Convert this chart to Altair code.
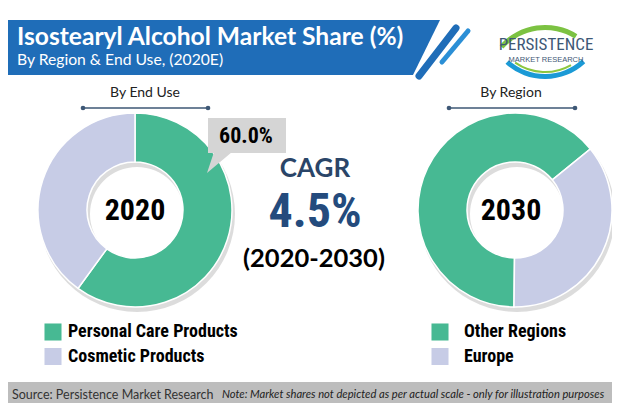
import math
import altair as alt
import pandas as pd

# ---------------- data ----------------
end_use_labels = ["Personal Care Products", "Cosmetic Products"]
end_use_share = [60, 40]
region_labels = ["Other Regions", "Europe"]
region_share = [64, 36]
end_use_year = "2020"
region_year = "2030"
callout_text = "60.0%"
cagr_label = "CAGR"
cagr_value = "4.5%"
cagr_period = "(2020-2030)"
title_text = "Isostearyl Alcohol Market Share (%)"
subtitle_text = "By Region & End Use, (2020E)"
panel_titles = ["By End Use", "By Region"]
source_text = "Source: Persistence Market Research"
note_text = "Note: Market shares not depicted as per actual scale - only for illustration purposes"
logo_lines = ["PERSISTENCE", "MARKET RESEARCH"]

# ---------------- styles ----------------
GREEN = "#47b993"
LAVENDER = "#c7cce6"
BLUE = "#1f6db8"
NAVY = "#3e5876"
NARROW = "Roboto Condensed, DejaVu Sans Condensed, sans-serif"
GOTHIC = "Lato, Open Sans, sans-serif"
OFF = 8
W, H = 604, 395


def px(v):
    return v - OFF


one = alt.Data(values=[{"k": 1}])


def base():
    return alt.Chart(one)


def rect(x1, y1, x2, y2, color, **kw):
    return base().mark_rect(color=color, **kw).encode(
        x=alt.value(px(x1)), x2=alt.value(px(x2)),
        y=alt.value(px(y1)), y2=alt.value(px(y2)))


def poly(points, color, **kw):
    xs = [p[0] for p in points]
    ys = [p[1] for p in points]
    cx = (min(xs) + max(xs)) / 2
    cy = (min(ys) + max(ys)) / 2
    s = max(max(xs) - min(xs), max(ys) - min(ys)) / 2
    path = "M" + "L".join(f"{(x - cx) / s:.4f},{(y - cy) / s:.4f}" for x, y in points) + "Z"
    return base().mark_point(shape=path, filled=True, size=(2 * s) ** 2, color=color,
                             opacity=1, strokeWidth=0, **kw).encode(
        x=alt.value(px(cx)), y=alt.value(px(cy)))


def rule(x1, y1, x2, y2, color, width, **kw):
    return base().mark_rule(color=color, strokeWidth=width, strokeCap="round", **kw).encode(
        x=alt.value(px(x1)), x2=alt.value(px(x2)),
        y=alt.value(px(y1)), y2=alt.value(px(y2)))


def text(t, x, y, size, font=GOTHIC, color="black", weight="normal", align="center",
         baseline="middle", **kw):
    return base().mark_text(text=t, font=font, fontSize=size, fontWeight=weight, color=color,
                            align=align, baseline=baseline, **kw).encode(
        x=alt.value(px(x)), y=alt.value(px(y)))


def dot(x, y, color, size=22):
    return base().mark_point(shape="circle", filled=True, size=size, color=color, opacity=1,
                             strokeWidth=0).encode(x=alt.value(px(x)), y=alt.value(px(y)))


def band_arc(cx, cy, r1, r2, t1, t2, color, **kw):
    return base().mark_arc(radius=r2, radius2=r1, theta=math.radians(t1), theta2=math.radians(t2),
                           color=color, **kw).encode(x=alt.value(px(cx)), y=alt.value(px(cy)))


layers = []

# title banner
layers.append(poly([(6, 20), (440, 20), (413, 75), (6, 75)], BLUE))
layers.append(rule(419, 76, 456, 28, "white", 11))
layers.append(rule(419, 76, 456, 28, BLUE, 7))
layers.append(rule(442, 62, 468, 31, "#2b8fd6", 5))
layers.append(text(title_text, 17, 45, 24.6, weight="bold", color="white", align="left",
                   baseline="alphabetic"))
layers.append(text(subtitle_text, 17, 65, 15.7, color="white", align="left",
                   baseline="alphabetic"))

# logo
layers.append(band_arc(545, 86, 56, 61, 312, 392, "#7cc242"))
layers.append(band_arc(545, 20, 54, 59, 137, 222, "#1b9ad6"))
layers.append(band_arc(545, 20, 51, 53, 150, 215, "#8cc63f"))
layers.append(text(logo_lines[0], 546, 45, 17, font=NARROW, color=NAVY))
layers.append(text(logo_lines[1], 546, 60, 7.5, font="Liberation Sans, sans-serif", color=NAVY))

# panel headings
for label, cx, x1, x2 in [(panel_titles[0], 145, 83, 208), (panel_titles[1], 511, 449, 575)]:
    layers.append(text(label, cx, 93, 14, color="#222222"))
    layers.append(rule(x1, 108, x2, 108, NAVY, 1.6))
    layers.append(dot(x1, 108, NAVY))
    layers.append(dot(x2, 108, NAVY))

# donut shadows
layers.append(band_arc(137, 214, 47, 98, 0, 360, "#9a9a9a", opacity=0.35))
layers.append(band_arc(517, 214, 47, 98, 0, 360, "#9a9a9a", opacity=0.35))

legend_common = dict(
    orient="none", title=None, symbolType="square", symbolSize=290, symbolStrokeWidth=0,
    symbolOpacity=1, labelFont=NARROW, labelFontSize=18, labelFontWeight="bold",
    labelColor="black", rowPadding=6.5, padding=0, labelLimit=300, direction="vertical")

# left donut (end use)
eu_df = pd.DataFrame({"segment": end_use_labels, "share": end_use_share,
                      "rank": list(range(len(end_use_labels)))})
left = alt.Chart(eu_df).mark_arc(innerRadius=48, outerRadius=97, stroke="white",
                                 strokeWidth=1.5).encode(
    theta=alt.Theta("share:Q", stack=True, scale=alt.Scale(range=[0, 2 * math.pi])),
    order=alt.Order("rank:Q"),
    color=alt.Color("segment:N", scale=alt.Scale(domain=end_use_labels, range=[GREEN, LAVENDER]),
                    legend=alt.Legend(legendX=px(44), legendY=px(323), labelOffset=6,
                                      **legend_common)),
    x=alt.value(px(135)), y=alt.value(px(210)))
layers.append(left)

# right donut (region): Europe segment starts at ~51 degrees
start = math.radians(51)
rg_df = pd.DataFrame({"segment": region_labels, "share": region_share,
                      "rank": [1, 0]})
right = alt.Chart(rg_df).mark_arc(innerRadius=48, outerRadius=97, stroke="white",
                                  strokeWidth=1.5).encode(
    theta=alt.Theta("share:Q", stack=True,
                    scale=alt.Scale(range=[start, start + 2 * math.pi])),
    order=alt.Order("rank:Q"),
    color=alt.Color("segment:N", scale=alt.Scale(domain=region_labels, range=[GREEN, LAVENDER]),
                    legend=alt.Legend(legendX=px(431), legendY=px(323), labelOffset=15,
                                      **legend_common)),
    x=alt.value(px(515)), y=alt.value(px(210)))
layers.append(right)

# center years
layers.append(text(end_use_year, 135, 211, 30, font=NARROW, weight="bold"))
layers.append(text(region_year, 511, 211, 30, font=NARROW, weight="bold"))

# callout
layers.append(poly([(214, 152), (232, 152), (207, 173)], "#d5d5d5"))
layers.append(rect(208, 118, 286, 153, "#d5d5d5"))
layers.append(text(callout_text, 246, 136, 22, font=NARROW, weight="bold"))

# CAGR block
layers.append(text(cagr_label, 315, 169, 26, weight="bold", color="#2a4568"))
layers.append(text(cagr_value, 315, 213, 48, font=NARROW, weight="bold", color="#244b7d"))
layers.append(text(cagr_period, 314, 259, 25.5, weight="bold", color="black"))

# footer
layers.append(rect(0, 382, 620, 407, "#bdbdbd"))
layers.append(text(source_text, 12, 395, 12.5, color="#333333", align="left"))
layers.append(text(note_text, 222, 395, 11.2, color="#222222", align="left",
                   fontStyle="italic"))

chart = alt.layer(*layers).resolve_scale(theta="independent", color="independent").properties(
    width=W, height=H, autosize=alt.AutoSizeParams(type="none"), padding=0,
    background="white"
).configure_view(stroke=None)

chart.save("out.html", embed_options={"renderer": "svg", "actions": False})
